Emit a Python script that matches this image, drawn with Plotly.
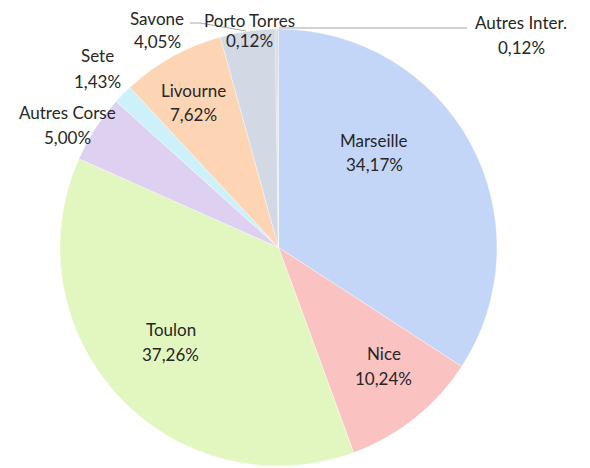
import plotly.graph_objects as go

labels = ["Marseille", "Nice", "Toulon", "Autres Corse", "Sete", "Livourne", "Savone", "Porto Torres", "Autres Inter."]
values = [34.17, 10.24, 37.26, 5.00, 1.43, 7.62, 4.05, 0.12, 0.12]
colors = ["#c4d6f8", "#fbc2c2", "#e2f6c0", "#ddd0f0", "#cdf1fb", "#fdd5b5", "#d3d9e4", "#c8ccd4", "#d0d4dc"]

W, H = 590, 468
OFF = 8  # page body margin offset

# label positions in screen pixels: (x centre, name line y, value line y)
label_pos = {
    "Marseille": (374, 140, 165),
    "Nice": (384, 353, 378),
    "Toulon": (171, 329, 354),
    "Autres Corse": (67, 112, 137),
    "Sete": (97, 56, 81),
    "Livourne": (193, 90, 115),
    "Savone": (157, 18, 42),
    "Porto Torres": (249, 20, 41),
    "Autres Inter.": (521, 23, 47),
}

def px(x):
    return (x - OFF) / W

def py(y):
    return 1 - (y - OFF) / H

def fmt(v):
    return f"{v:.2f}".replace(".", ",") + "%"

fig = go.Figure(go.Pie(
    labels=labels, values=values, sort=False, direction="clockwise", rotation=0,
    marker=dict(colors=colors, line=dict(color="rgba(255,255,255,0.6)", width=0.6)),
    textinfo="none", hoverinfo="label+percent", showlegend=False,
    domain=dict(x=[px(60), px(497)], y=[py(466), py(29)]),
))

font = dict(family="Lato", size=17, color="#262626")
annotations = []
for lab, val in zip(labels, values):
    x, y1, y2 = label_pos[lab]
    for txt, yy in ((lab, y1), (fmt(val), y2)):
        annotations.append(dict(
            x=px(x), y=py(yy), xref="paper", yref="paper",
            text=txt, showarrow=False, font=font, borderpad=0,
            xanchor="center", yanchor="middle", align="center",
        ))

shapes = [
    # Savone leader
    dict(type="path", path=f"M {px(190)} {py(23)} L {px(200)} {py(23)} L {px(246)} {py(31)}",
         xref="paper", yref="paper", line=dict(color="#a6a6a6", width=1)),
    # Autres Inter. leader
    dict(type="line", x0=px(279), y0=py(28), x1=px(467), y1=py(28),
         xref="paper", yref="paper", line=dict(color="#a6a6a6", width=1)),
]

fig.update_layout(
    width=W, height=H, margin=dict(l=0, r=0, t=0, b=0),
    paper_bgcolor="white", plot_bgcolor="white",
    annotations=annotations, shapes=shapes,
)

fig.write_html("out.html")
